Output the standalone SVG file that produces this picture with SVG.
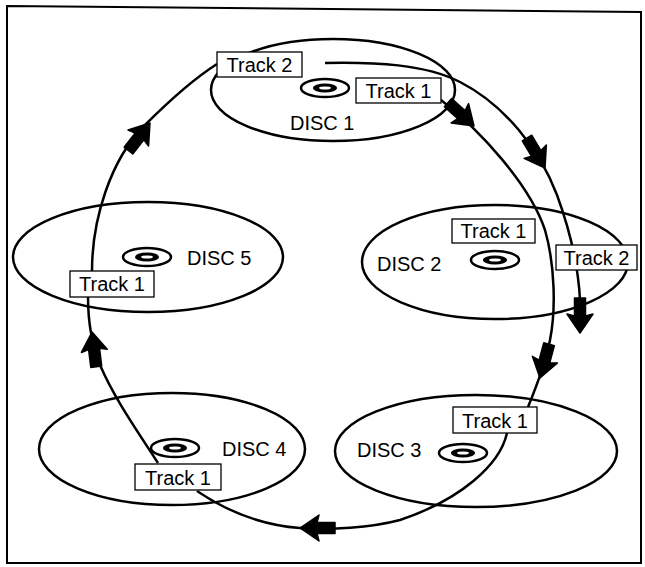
<svg xmlns="http://www.w3.org/2000/svg" width="645" height="567" viewBox="0 0 645 567">
<style>
.bg{fill:#fff}
.frame{fill:none;stroke:#000;stroke-width:2}
.disc{fill:none;stroke:#000;stroke-width:2.5}
.line{fill:none;stroke:#000;stroke-width:2.5}
.box{fill:#fff;stroke:#000;stroke-width:1.3}
.lbl{font-family:"Liberation Sans",Arial,sans-serif;font-size:20px;fill:#000}
.ico{fill:none;stroke:#000;stroke-width:2.5}
.ring{fill:#000}
.hole{fill:#fff}
.ah{fill:#000;stroke:#000;stroke-width:1.5;stroke-linejoin:round}
</style>
<defs>
<path id="arr" class="ah" d="M0,0 L-19,-13 L-17,-5.5 L-35,-5.5 L-35,5.5 L-17,5.5 L-19,13 Z"/>
<g id="icon">
<ellipse class="ico" cx="0" cy="0" rx="24" ry="9"/>
<ellipse class="ring" cx="0" cy="0" rx="12" ry="4.5"/>
<ellipse class="hole" cx="0" cy="0" rx="6" ry="1.6"/>
</g>
</defs>
<rect class="bg" x="0" y="0" width="645" height="567"/>
<path class="frame" d="M7,6 L641,12 L641,563 L7,563 Z"/>

<g id="disc1">
<ellipse class="disc" cx="333" cy="90" rx="122" ry="51"/>
<use href="#icon" x="325" y="88"/>
<text class="lbl" x="290" y="130">DISC 1</text>
</g>
<g id="disc2">
<ellipse class="disc" cx="495" cy="262" rx="133" ry="57"/>
<use href="#icon" x="495" y="260"/>
<text class="lbl" x="377" y="271">DISC 2</text>
</g>
<g id="disc3">
<ellipse class="disc" cx="476" cy="451" rx="141" ry="56"/>
<use href="#icon" x="463" y="453"/>
<text class="lbl" x="357" y="457">DISC 3</text>
</g>
<g id="disc4">
<ellipse class="disc" cx="172" cy="449" rx="133" ry="56"/>
<use href="#icon" x="175" y="448"/>
<text class="lbl" x="222" y="456">DISC 4</text>
</g>
<g id="disc5">
<ellipse class="disc" cx="148" cy="257" rx="135" ry="55"/>
<use href="#icon" x="147" y="257"/>
<text class="lbl" x="187" y="265">DISC 5</text>
</g>

<g id="connectors">
<path class="line" d="M441,100 C480,130 530,185 545,230 C555,265 556,310 550,340 C546,360 535,390 528,407"/>
<path class="line" d="M507,433 C500,465 460,500 400,520 C370,528 330,530 300,528 C260,525 225,510 197,491"/>
<path class="line" d="M158,463 C140,435 115,400 100,365 C92,345 88,320 88,297"/>
<path class="line" d="M92,271 C92,220 110,160 145,125 C170,100 195,78 217,64"/>
<path class="line" d="M325,63 C375,62 425,64 460,82 C505,105 540,150 557,195 C568,225 578,260 580,300"/>
<use href="#arr" transform="translate(474,126) rotate(42)"/>
<use href="#arr" transform="translate(545,168) rotate(59)"/>
<use href="#arr" transform="translate(580,333) rotate(90)"/>
<use href="#arr" transform="translate(540,378) rotate(105)"/>
<use href="#arr" transform="translate(300,528) rotate(180)"/>
<use href="#arr" transform="translate(92,332) rotate(-97)"/>
<use href="#arr" transform="translate(150,123) rotate(-52)"/>
</g>

<g id="label-d1t2"><rect class="box" x="217" y="52" width="85" height="25"/><text class="lbl" x="259.5" y="72" text-anchor="middle">Track 2</text></g>
<g id="label-d1t1"><rect class="box" x="356" y="78" width="85" height="25"/><text class="lbl" x="398.5" y="98" text-anchor="middle">Track 1</text></g>
<g id="label-d2t1"><rect class="box" x="452" y="219" width="83" height="24"/><text class="lbl" x="493.5" y="238" text-anchor="middle">Track 1</text></g>
<g id="label-d2t2"><rect class="box" x="556" y="245" width="81" height="25"/><text class="lbl" x="596.5" y="265" text-anchor="middle">Track 2</text></g>
<g id="label-d3t1"><rect class="box" x="453" y="407" width="84" height="26"/><text class="lbl" x="495" y="428" text-anchor="middle">Track 1</text></g>
<g id="label-d4t1"><rect class="box" x="135" y="464" width="86" height="26"/><text class="lbl" x="178" y="485" text-anchor="middle">Track 1</text></g>
<g id="label-d5t1"><rect class="box" x="70" y="271" width="84" height="26"/><text class="lbl" x="112" y="291" text-anchor="middle">Track 1</text></g>
</svg>
